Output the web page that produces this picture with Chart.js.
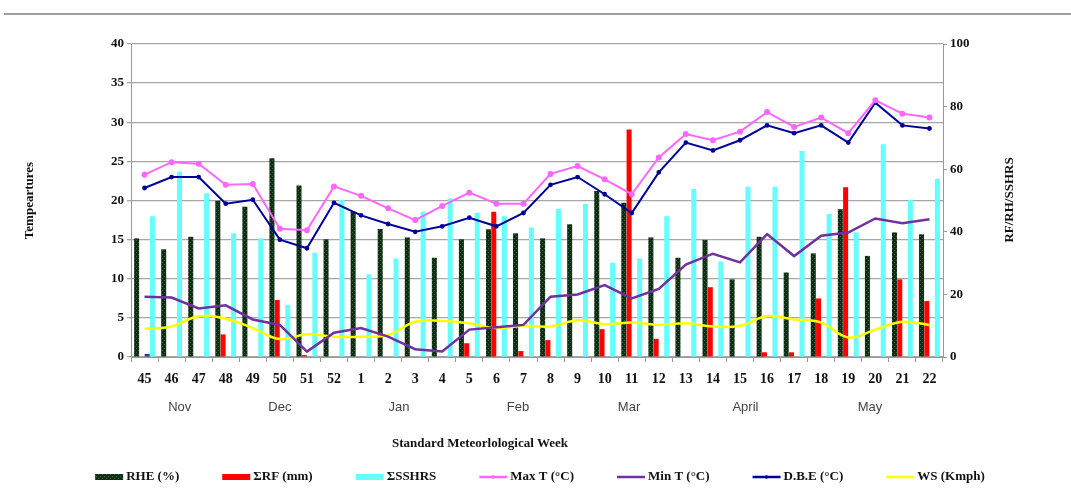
<!DOCTYPE html>
<html>
<head>
<meta charset="utf-8">
<script src="https://cdn.jsdelivr.net/npm/chart.js@4.4.1/dist/chart.umd.min.js"></script>
<style>
  body { margin: 0; background: #fff; }
  #wrap { position: relative; width: 1071px; height: 497px; }
</style>
</head>
<body>
<div id="wrap"><canvas id="chart"></canvas></div>
<script>
// standard meteorological weeks (x axis)
const weeks = ["45","46","47","48","49","50","51","52","1","2","3","4","5","6","7","8","9","10","11","12","13","14","15","16","17","18","19","20","21","22"];

// bars, right axis (RF/RH/SSHRS)
const rhe = [37.9,34.4,38.4,49.9,48.0,63.5,54.8,37.6,46.4,40.9,38.2,31.7,37.6,40.8,39.5,37.9,42.4,53.0,49.3,38.2,31.7,37.4,24.8,38.4,27.0,33.1,47.2,32.3,39.8,39.2];
const rf = [0,0,0,7.2,0,18.2,0.6,0,0,0,0,0,4.4,46.4,1.9,5.4,0,8.9,72.7,5.8,0,22.3,0,1.5,1.5,18.7,54.2,0,24.8,17.9];
const stray = [1,null,null,null,null,null,null,null,null,null,null,null,null,null,null,null,null,null,null,null,null,null,null,null,null,null,null,null,null,null];
const sshrs = [45,59.2,52.3,39.5,37.9,16.6,33.3,50.2,26.4,31.5,46.4,50.7,46.1,45,41.4,47.3,48.9,30.1,31.5,45,53.7,30.5,54.4,54.4,65.8,45.7,39.8,68,50.2,56.9];

// lines, left axis (temperatures)
const maxT = [23.3,24.9,24.7,22.0,22.1,16.4,16.2,21.8,20.6,19.0,17.5,19.3,21.0,19.6,19.6,23.4,24.4,22.7,20.8,25.5,28.5,27.7,28.8,31.3,29.4,30.6,28.6,32.8,31.1,30.6];
const minT = [7.7,7.6,6.2,6.6,4.8,4.1,0.7,3.1,3.7,2.6,1.0,0.7,3.5,3.8,4.1,7.7,8.0,9.2,7.5,8.7,11.8,13.2,12.1,15.7,12.9,15.5,15.9,17.7,17.1,17.6];
const dbe = [21.6,23.0,23.0,19.6,20.1,15.0,13.9,19.7,18.1,17.0,16.0,16.7,17.8,16.7,18.4,22.0,23.0,20.8,18.4,23.6,27.4,26.4,27.7,29.6,28.6,29.6,27.4,32.5,29.6,29.2];
const ws = [3.6,3.9,5.2,4.9,3.7,2.3,2.9,2.6,2.6,2.8,4.5,4.6,4.3,3.7,4.0,3.9,4.7,4.2,4.4,4.1,4.3,3.9,4.0,5.2,4.8,4.4,2.5,3.5,4.5,4.1];

// month labels under the weeks (position = category index)
const months = ["Nov","Dec","Jan","Feb","Mar","April","May"];
const monthAt = [1.3,5.0,9.4,13.8,17.9,22.2,26.8];

const serif = "'Liberation Serif', 'Times New Roman', serif";

// speckled dark green fill like the excel texture
function greenPattern() {
  const c = document.createElement("canvas");
  c.width = 4; c.height = 4;
  const g = c.getContext("2d");
  g.fillStyle = "#0f2e14";
  g.fillRect(0, 0, 4, 4);
  g.fillStyle = "#3a6640";
  g.fillRect(0, 0, 1, 1);
  g.fillRect(2, 2, 1, 1);
  return g.createPattern(c, "repeat");
}
const rheFill = greenPattern();

const legendItems = [
  { text: "RHE (%)", fill: rheFill, kind: "box" },
  { text: "\u03A3RF (mm)", fill: "#ff0000", kind: "box" },
  { text: "\u03A3SSHRS", fill: "#66ffff", kind: "box" },
  { text: "Max T (\u00B0C)", fill: "#ff66ff", kind: "line", dot: true },
  { text: "Min T (\u00B0C)", fill: "#7030a0", kind: "line" },
  { text: "D.B.E (\u00B0C)", fill: "#000099", kind: "line", dot: true },
  { text: "WS (Kmph)", fill: "#ffff00", kind: "line" },
];

// extra texts + legend drawn by hand
const extras = {
  id: "extras",
  afterDraw(chart) {
    const ctx = chart.ctx;
    const x = chart.scales.x;
    ctx.save();

    // rule at the top of the picture
    ctx.strokeStyle = "#a0a0a0";
    ctx.lineWidth = 2;
    ctx.beginPath();
    ctx.moveTo(4, 14);
    ctx.lineTo(1071, 14);
    ctx.stroke();

    // months
    ctx.fillStyle = "#444";
    ctx.font = "13px 'Liberation Sans', Arial, sans-serif";
    ctx.textAlign = "center";
    ctx.textBaseline = "middle";
    months.forEach((m, i) => {
      ctx.fillText(m, x.getPixelForValue(monthAt[i]), 407);
    });

    // x title
    ctx.fillStyle = "#111";
    ctx.font = "bold 13px " + serif;
    ctx.fillText("Standard Meteorlological Week", 480, 444);

    // right axis title (reads bottom to top)
    ctx.save();
    ctx.translate(1010, 200);
    ctx.rotate(-Math.PI / 2);
    ctx.fillText("RF/RH/SSHRS", 0, 0);
    ctx.restore();

    // legend
    ctx.font = "bold 13px " + serif;
    ctx.textAlign = "left";
    const boxW = 28, gap = 3, space = 43;
    const widths = legendItems.map(it => boxW + gap + ctx.measureText(it.text).width);
    const total = widths.reduce((a, b) => a + b, 0) + space * (legendItems.length - 1);
    let lx = 540 - total / 2;
    const ly = 477;
    legendItems.forEach((it, i) => {
      if (it.kind === "box") {
        ctx.fillStyle = it.fill;
        ctx.fillRect(lx, ly - 3, boxW, 6);
      } else {
        ctx.strokeStyle = it.fill;
        ctx.lineWidth = 2.5;
        ctx.beginPath();
        ctx.moveTo(lx, ly);
        ctx.lineTo(lx + boxW, ly);
        ctx.stroke();
        if (it.dot) {
          ctx.fillStyle = it.fill;
          ctx.beginPath();
          ctx.arc(lx + boxW / 2, ly, 1.8, 0, Math.PI * 2);
          ctx.fill();
        }
      }
      ctx.fillStyle = "#111";
      ctx.fillText(it.text, lx + boxW + gap, ly);
      lx += widths[i] + space;
    });

    ctx.restore();
  },
};

const tickFont = { family: serif, size: 13, weight: "bold" };

new Chart(document.getElementById("chart"), {
  data: {
    labels: weeks,
    datasets: [
      { type: "line", label: "Max T (\u00B0C)", data: maxT, yAxisID: "y", borderColor: "#ff66ff", backgroundColor: "#ff66ff", borderWidth: 2, pointRadius: 2, order: 0 },
      { type: "line", label: "D.B.E (\u00B0C)", data: dbe, yAxisID: "y", borderColor: "#000099", backgroundColor: "#000055", borderWidth: 2, pointRadius: 1.4, order: 0 },
      { type: "line", label: "Min T (\u00B0C)", data: minT, yAxisID: "y", borderColor: "#7030a0", backgroundColor: "#7030a0", borderWidth: 2.5, pointRadius: 0, order: 0 },
      { type: "line", label: "WS (Kmph)", data: ws, yAxisID: "y", borderColor: "#ffff00", backgroundColor: "#ffff00", borderWidth: 2.5, pointRadius: 0, tension: 0.4, order: 0 },
      { type: "bar", label: "RHE (%)", data: rhe, yAxisID: "y1", backgroundColor: rheFill, order: 1 },
      { type: "bar", label: "\u03A3RF (mm)", data: rf, yAxisID: "y1", backgroundColor: "#ff0000", order: 1 },
      { type: "bar", label: "", data: stray, yAxisID: "y1", backgroundColor: "#333399", order: 1 },
      { type: "bar", label: "\u03A3SSHRS", data: sshrs, yAxisID: "y1", backgroundColor: "#66ffff", order: 1 },
    ],
  },
  options: {
    responsive: true,
    maintainAspectRatio: false,
    animation: false,
    layout: { padding: { top: 44, left: 0, right: 0, bottom: 0 } },
    datasets: {
      bar: { categoryPercentage: 0.78, barPercentage: 0.95 },
    },
    plugins: {
      legend: { display: false },
      tooltip: { enabled: false },
    },
    scales: {
      x: {
        grid: { offset: true, drawOnChartArea: false, tickLength: 5, color: "#999" },
        border: { color: "#999" },
        ticks: { font: { family: serif, size: 14, weight: "bold" }, color: "#111", padding: 9, maxRotation: 0, autoSkip: false },
        afterFit: (s) => { s.height = 140; },
      },
      y: {
        position: "left",
        min: 0,
        max: 40,
        ticks: { stepSize: 5, font: tickFont, color: "#111", padding: 3 },
        grid: { color: "#a6a6a6", lineWidth: 1.3, tickLength: 4 },
        border: { color: "#999" },
        title: { display: true, text: "Tempeartures", font: tickFont, color: "#111", padding: { top: 22, bottom: 0 } },
        afterFit: (s) => { s.width = 131; },
      },
      y1: {
        position: "right",
        min: 0,
        max: 100,
        ticks: { stepSize: 20, font: tickFont, color: "#111", padding: 3 },
        grid: { drawOnChartArea: false, color: "#999", tickLength: 4 },
        border: { color: "#999" },
        afterFit: (s) => { s.width = 128; },
      },
    },
  },
  plugins: [extras],
});
</script>
</body>
</html>
